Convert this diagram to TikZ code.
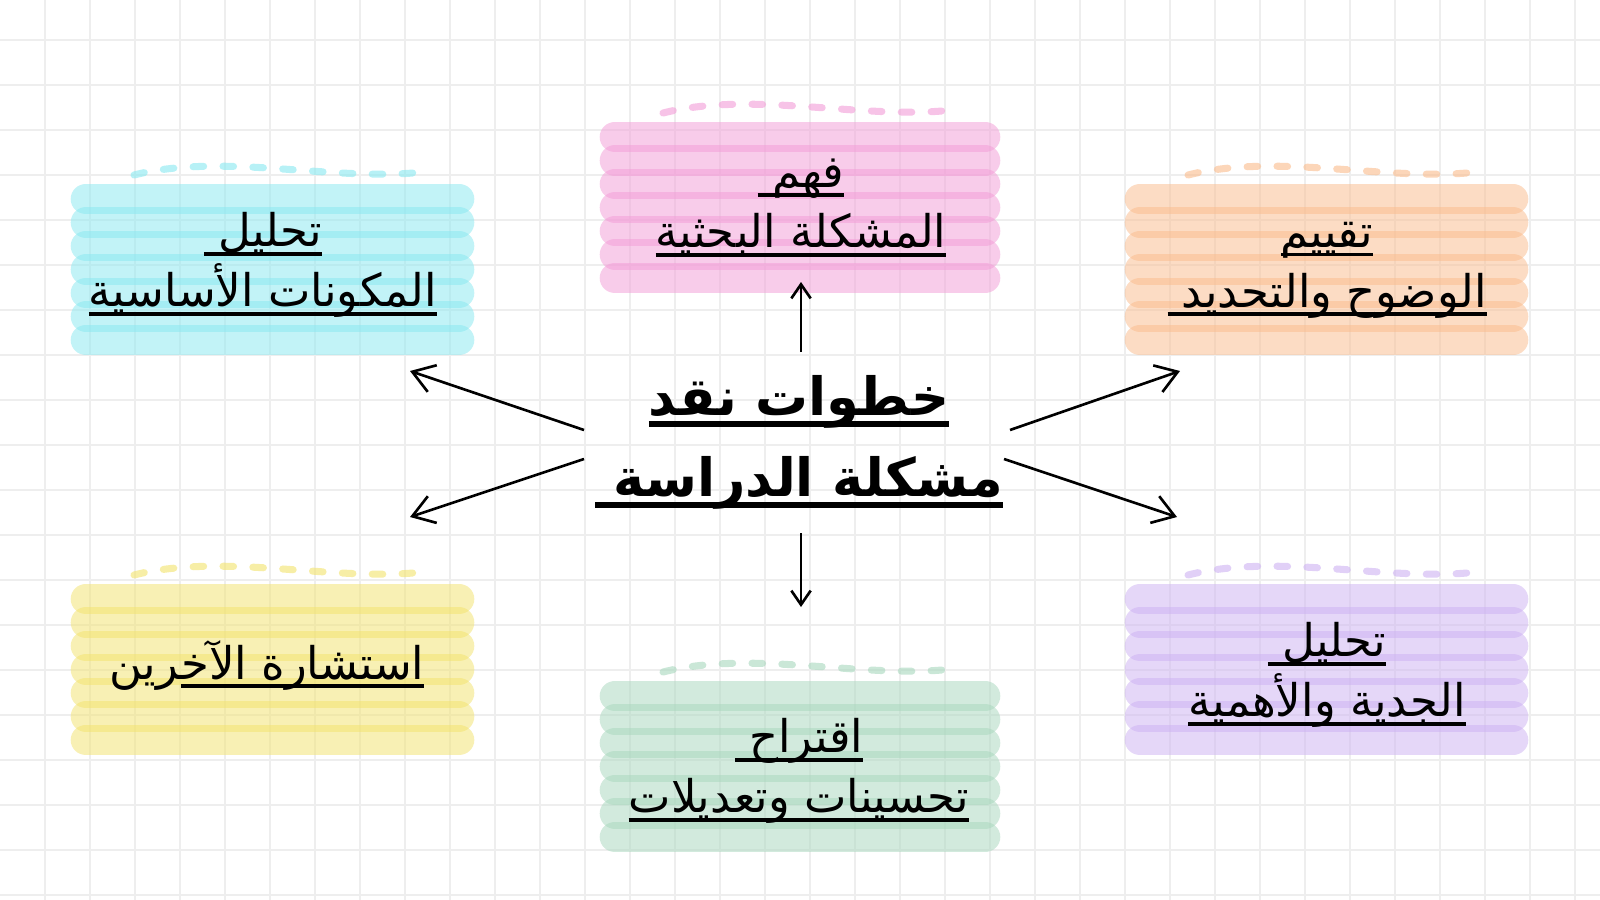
\documentclass[tikz,border=0pt]{standalone}
\usepackage{fontspec}
\newfontfamily\arfont[Script=Arabic]{DejaVu Sans}
\TeXXeTstate=1
\usetikzlibrary{arrows.meta}

\definecolor{pinkc}{RGB}{243,155,215}
\definecolor{cyanc}{RGB}{135,233,241}
\definecolor{orangec}{RGB}{251,187,139}
\definecolor{yellowc}{RGB}{243,227,107}
\definecolor{purplec}{RGB}{205,177,243}
\definecolor{greenc}{RGB}{167,215,189}
\definecolor{gridc}{RGB}{238,238,238}

% underlined right-to-left line
\newcommand{\arline}[1]{\setbox0\hbox{\beginR#1\endR}\rlap{\rule[-2.6pt]{\wd0}{1.1pt}}\box0}
\newcommand{\arlinebold}[1]{\setbox0\hbox{\beginR#1\endR}\rlap{\rule[-3.4pt]{\wd0}{1.6pt}}\box0}

\tikzset{
  brush/.style={line width=8.7pt, line cap=round, draw opacity=0.5},
  wavy/.style={line width=2pt, line cap=round, dash pattern=on 3pt off 5.5pt, draw opacity=0.6},
  stepbox/.style={font=\arfont\fontsize{12.8}{17}\selectfont, align=center, inner sep=0pt},
  handarrow/.style={line width=0.75pt, -{Straight Barb[length=6pt,width=8pt]}},
  smallarrow/.style={line width=0.75pt, -{Straight Barb[length=4pt,width=5.5pt]}},
}

% highlighter block: colour, left x, right x, top y
\newcommand{\hilite}[4]{
  \foreach \row in {0,...,6}
    \draw[brush, #1] (#2+15, #4+15+23.5*\row) -- (#3-15, #4+15+23.5*\row);
  \draw[wavy, #1] (#2+63,#4-9) .. controls (#2+150,#4-31) and (#2+255,#4-4) .. (#2+342,#4-11);
}

\begin{document}
\begin{tikzpicture}[x=0.01cm, y=-0.01cm]
\useasboundingbox[fill=white] (0,0) rectangle (1600,900);

\foreach \x in {45,90,...,1600} {
	\draw[gridc, line width=0.5pt] (\x,0) -- (\x,900);
}
\foreach \y in {40,85,...,900} {
	\draw[gridc, line width=0.5pt] (0,\y) -- (1600,\y);
}

\hilite{pinkc}{600}{1000}{122}
\hilite{cyanc}{71}{474}{184}
\hilite{orangec}{1125}{1528}{184}
\hilite{yellowc}{71}{474}{584}
\hilite{purplec}{1125}{1528}{584}
\hilite{greenc}{600}{1000}{681}

\node[stepbox] (understand) at (801,208) {\arline{فهم~}\\\arline{المشكلة البحثية}};
\node[stepbox] (components) at (263,265) {\arline{تحليل~}\\\arline{المكونات الأساسية}};
\node[stepbox] (clarity) at (1327,270) {\arline{تقييم}\\\arline{الوضوح والتحديد~}};
\node[stepbox] (consult) at (267,665) {{\beginR^^^^200dرين\endR}\arline{استشارة الآخ^^^^200d}};
\node[stepbox] (novelty) at (1327,675) {\arline{تحليل~}\\\arline{الجدية والأهمية}};
\node[stepbox] (improve) at (799,771) {\arline{اقتراح~}\\\arline{تحسينات وتعديلات}};

\node[font=\arfont\bfseries\fontsize{15}{23}\selectfont, align=center, inner sep=0pt] (title) at (799,442) {\arlinebold{خطوات نقد}\\\arlinebold{مشكلة الدراسة~}};

\coordinate (up-s) at (801,352);
\coordinate (up-e) at (801,282);
\coordinate (dn-s) at (801,533);
\coordinate (dn-e) at (801,607);
\coordinate (ul-s) at (584,430);
\coordinate (ul-e) at (410,371);
\coordinate (dl-s) at (584,459);
\coordinate (dl-e) at (410,517);
\coordinate (ur-s) at (1010,430);
\coordinate (ur-e) at (1180,371);
\coordinate (dr-s) at (1004,459);
\coordinate (dr-e) at (1177,517);

\foreach \a in {ul,dl,ur,dr} {
	\draw[handarrow] (\a-s) -- (\a-e);
}
\foreach \a in {up,dn} {
	\draw[smallarrow] (\a-s) -- (\a-e);
}
\end{tikzpicture}
\end{document}
